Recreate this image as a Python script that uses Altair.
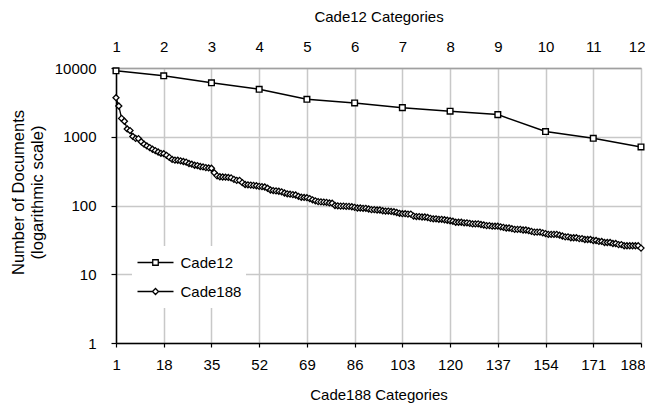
import altair as alt
import pandas as pd

# ---------------- data ----------------
cade12_categories = list(range(1, 13))
cade12_docs = [9100, 7700, 6100, 4900, 3500, 3100, 2650, 2350, 2100, 1190, 950, 710]

cade188_categories = list(range(1, 189))
cade188_docs = [
    3700, 2800, 1850, 1680, 1300, 1230, 1010, 945, 940, 845,
    780, 735, 695, 658, 628, 600, 574, 567, 537, 501,
    468, 457, 455, 446, 437, 427, 408, 399, 385, 381,
    369, 364, 356, 352, 348, 300, 270, 262, 260, 258,
    256, 252, 240, 232, 232, 215, 202, 200, 198, 196,
    194, 190, 188, 186, 178, 168, 165, 163, 161, 158,
    152, 148, 146, 144, 142, 136, 132, 131, 130, 126,
    121, 117, 114, 113, 112, 111, 109, 108, 100, 99,
    98, 98, 97, 97, 96, 94, 92, 92, 91, 91,
    89, 87, 87, 86, 86, 84, 83, 83, 82, 81,
    79, 77, 76, 76, 75, 75, 70, 69, 69, 68,
    68, 67, 65, 64, 64, 63, 63, 62, 61, 60,
    59, 57, 57, 57, 56, 56, 55, 54, 54, 54,
    53, 52, 51, 51, 50, 50, 50, 49, 48, 47,
    47, 46, 45, 45, 45, 44, 44, 43, 42, 41,
    41, 41, 40, 39, 38, 38, 38, 38, 37, 36,
    35, 35, 34, 34, 34, 33, 33, 32, 32, 32,
    31, 31, 30, 30, 29, 29, 29, 28, 28, 27,
    27, 26, 26, 26, 26, 26, 26, 24,
]

bottom_ticks = [1, 18, 35, 52, 69, 86, 103, 120, 137, 154, 171, 188]
top_ticks = [1, 2, 3, 4, 5, 6, 7, 8, 9, 10, 11, 12]
y_ticks = [1, 10, 100, 1000, 10000]
series_names = ["Cade12", "Cade188"]

df12 = pd.DataFrame({"cat": cade12_categories, "docs": cade12_docs})
df188 = pd.DataFrame({"cat": cade188_categories, "docs": cade188_docs})
legend_df = pd.DataFrame({"series": series_names})

FONT = "Liberation Sans"
GRID = "#c8c8c8"
FS = 15

# legend symbols: a line segment with the marker in the middle
square_path = "M-1,0H-0.153M0.153,0H1M-0.153,-0.153H0.153V0.153H-0.153Z"
diamond_path = "M-1,0H-0.167M0.167,0H1M-0.167,0L0,-0.167L0.167,0L0,0.167Z"

y_enc = alt.Y(
    "docs:Q",
    scale=alt.Scale(type="log", domain=[1, 10000], nice=False),
    axis=alt.Axis(
        values=y_ticks, format="d",
        title=["Number of Documents", "(logarithmic scale)"],
        grid=True, gridColor=GRID, gridWidth=1.5,
        domainColor="black", domainWidth=1.5,
        tickColor="black", tickSize=5, tickWidth=1.2,
        labelPadding=15, labelFontSize=FS, labelFont=FONT, labelColor="black",
        titleFontSize=16.5, titleFont=FONT, titleColor="black", titleFontWeight="normal",
        titlePadding=9, titleY=124, titleLineHeight=19,
    ),
)

x188 = alt.X(
    "cat:Q",
    scale=alt.Scale(domain=[1, 188], nice=False, zero=False),
    axis=alt.Axis(
        orient="bottom", values=bottom_ticks, title="Cade188 Categories",
        grid=True, gridColor=GRID, gridWidth=1.5,
        domainColor="black", domainWidth=1.5,
        tickColor="black", tickSize=4, tickWidth=1.2,
        labelPadding=10, labelFontSize=FS, labelFont=FONT, labelColor="black",
        labelFlush=True, labelFlushOffset=4, labelOverlap=False,
        titleFontSize=FS, titleFont=FONT, titleColor="black", titleFontWeight="normal",
        titlePadding=15,
    ),
)

x12 = alt.X(
    "cat:Q",
    scale=alt.Scale(domain=[1, 12], nice=False, zero=False),
    axis=alt.Axis(
        orient="top", values=top_ticks, title="Cade12 Categories",
        grid=False, ticks=False, tickSize=0,
        domain=True, domainColor="#a0a0a0", domainWidth=1.5,
        labelPadding=14, labelFontSize=FS, labelFont=FONT, labelColor="black",
        labelFlush=True, labelFlushOffset=4, labelOverlap=False,
        titleFontSize=FS, titleFont=FONT, titleColor="black", titleFontWeight="normal",
        titlePadding=15,
    ),
)

b_line = alt.Chart(df188).mark_line(color="black", strokeWidth=1.3).encode(x=x188, y=y_enc)
b_pts = alt.Chart(df188).mark_point(
    shape="diamond", size=36, filled=True, fill="white", stroke="black",
    strokeWidth=1.3, opacity=1
).encode(x=x188, y=y_enc)
bottom = alt.layer(b_line, b_pts)

t_line = alt.Chart(df12).mark_line(color="black", strokeWidth=1.5).encode(x=x12, y=y_enc)
t_pts = alt.Chart(df12).mark_point(
    shape="square", size=32, filled=True, fill="white", stroke="black",
    strokeWidth=1.4, opacity=1
).encode(x=x12, y=y_enc)
top = alt.layer(t_line, t_pts)

leg = alt.Chart(legend_df).mark_point(opacity=0).encode(
    shape=alt.Shape(
        "series:N",
        scale=alt.Scale(domain=series_names, range=[square_path, diamond_path]),
        legend=alt.Legend(
            title=None, orient="none", legendX=16, legendY=178,
            symbolSize=1296, symbolFillColor="white", symbolStrokeColor="black",
            symbolStrokeWidth=1.3, symbolOpacity=1,
            fillColor="white", padding=4.5, rowPadding=5, clipHeight=24,
            labelFontSize=FS, labelFont=FONT, labelColor="black",
            labelOffset=6, labelLimit=200,
        ),
    )
)

chart = (
    alt.layer(bottom, top, leg)
    .resolve_scale(x="independent")
    .properties(
        width=525, height=275,
        padding={"left": 108, "top": 60, "right": 4, "bottom": 62},
        autosize=alt.AutoSizeParams(type="none"),
    )
    .configure_view(stroke="#a0a0a0", strokeWidth=1.5)
    .configure(font=FONT)
)

chart.save("out.html", embed_options={"renderer": "svg", "actions": False})
